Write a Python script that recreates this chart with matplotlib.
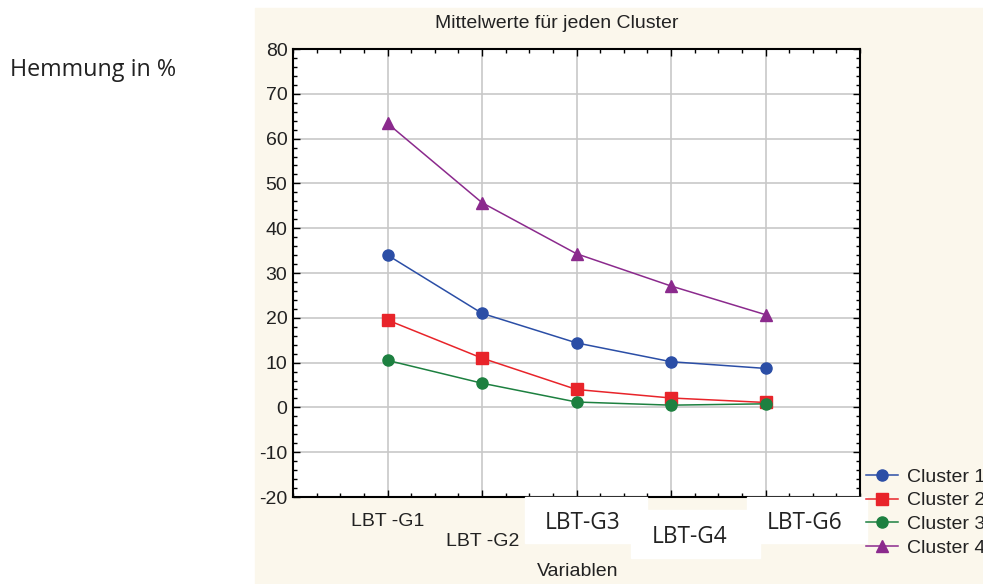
import matplotlib.pyplot as plt
from matplotlib.patches import Rectangle
from matplotlib.ticker import MultipleLocator

plt.rcParams['font.family'] = ['Liberation Sans', 'DejaVu Sans']
plt.rcParams['axes.unicode_minus'] = False

# data
variables = ["LBT -G1", "LBT -G2", "LBT -G3", "LBT -G4", "LBT -G6"]
cluster1 = [34.0, 21.0, 14.4, 10.2, 8.7]
cluster2 = [19.5, 11.0, 4.0, 2.1, 1.1]
cluster3 = [10.5, 5.4, 1.2, 0.5, 0.8]
cluster4 = [63.4, 45.7, 34.3, 27.1, 20.7]
cluster_names = ["Cluster 1", "Cluster 2", "Cluster 3", "Cluster 4"]
# labels pasted over the axis afterwards
pasted_labels = ["LBT-G3", "LBT-G4", "LBT-G6"]

W, H = 983, 584
fig = plt.figure(figsize=(W / 100, H / 100), dpi=100)

# beige panel behind the statistica chart
fig.patches.append(Rectangle((255 / W, 0), 1 - 255 / W, 1 - 8 / H,
                             transform=fig.transFigure, color='#fbf7ec', zorder=-1))

ax = fig.add_axes([293 / W, 1 - 497 / H, 567 / W, 448 / H])
x = list(range(1, len(variables) + 1))

styles = [('#2b4ea6', 'o', 8), ('#e8242a', 's', 8.5), ('#1d8040', 'o', 8), ('#8b2a8d', '^', 8.5)]
for vals, name, (c, m, ms) in zip([cluster1, cluster2, cluster3, cluster4], cluster_names, styles):
    ax.plot(x, vals, color=c, marker=m, markersize=ms, linewidth=1.1, label=name, zorder=3)

ax.set_xlim(0, 6)
ax.set_ylim(-20, 80)
ax.set_xticks(x)
ax.set_xticklabels([])
ax.xaxis.set_minor_locator(MultipleLocator(0.25))
ax.yaxis.set_major_locator(MultipleLocator(10))
ax.yaxis.set_minor_locator(MultipleLocator(2))
ax.tick_params(which='both', direction='in', top=True, right=True, color='black')
ax.tick_params(which='major', length=5, width=1, labelsize=14, pad=4, labelcolor='#222222')
ax.tick_params(which='minor', length=3, width=1)
ax.grid(True, which='major', color='#c8c8c8', linewidth=1.2)
ax.set_axisbelow(True)
for s in ax.spines.values():
    s.set_linewidth(1.5)

txt = '#222222'
fig.text(557 / W, 1 - 23 / H, "Mittelwerte für jeden Cluster", ha='center', va='center',
         fontsize=14, color=txt)

# original staggered category labels (only the first two are still visible)
fig.text(388 / W, 1 - 521 / H, variables[0], ha='center', va='center', fontsize=14, color=txt)
fig.text(483 / W, 1 - 542 / H, variables[1], ha='center', va='center', fontsize=14, color=txt)
fig.text(578 / W, 1 - 572 / H, "Variablen", ha='center', va='center', fontsize=14, color=txt)

# white boxes with the replacement labels
boxes = [(525, 497, 647, 543), (631, 510, 760, 558), (747, 497, 867, 543)]
centers = [(583, 523), (690, 537), (805, 523)]
for (x0, y0, x1, y1), (cx, cy), lab in zip(boxes, centers, pasted_labels):
    fig.patches.append(Rectangle((x0 / W, 1 - y1 / H), (x1 - x0) / W, (y1 - y0) / H,
                                 transform=fig.transFigure, color='white', zorder=5))
    fig.text(cx / W, 1 - cy / H, lab, ha='center', va='center', fontsize=16.3,
             family='Open Sans', color=txt, zorder=6)

fig.legend(loc='upper left', bbox_to_anchor=(866 / W, 1 - 468 / H), frameon=False,
           fontsize=14, handlelength=1.65, handletextpad=0.45, labelspacing=0.32,
           borderaxespad=0, borderpad=0, labelcolor=txt)

fig.text(10 / W, 1 - 70 / H, "Hemmung in %", ha='left', va='center', fontsize=16.8,
         family='Open Sans', color=txt)

fig.savefig("out.png", dpi=100)
